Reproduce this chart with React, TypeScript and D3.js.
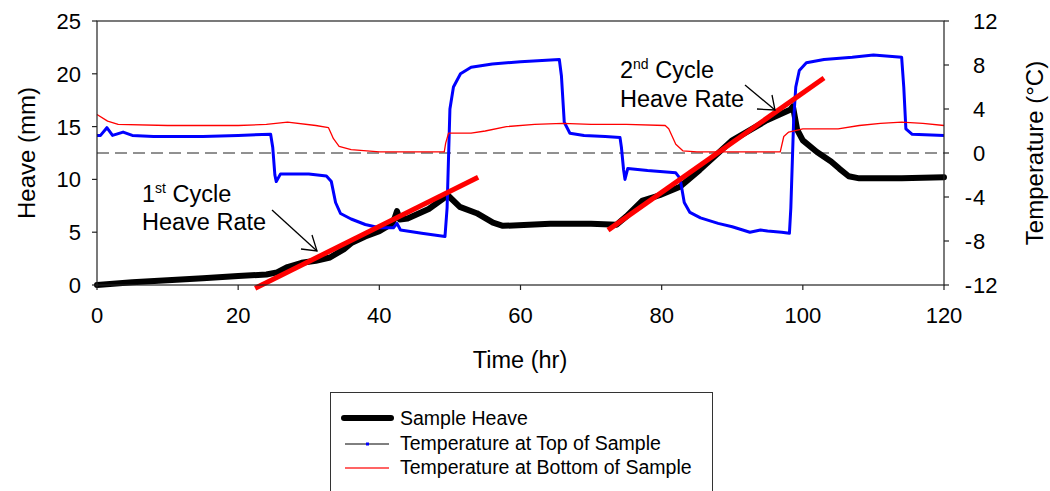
import React from "react";
import * as d3 from "d3";

const W = 1050;
const H = 491;
const PLOT = { left: 97, right: 944, top: 21, bottom: 285 };
const FONT = "'Liberation Sans', Arial, sans-serif";

// Time ticks and axis ticks
const timeTicks = [0, 20, 40, 60, 80, 100, 120];
const heaveTicks = [0, 5, 10, 15, 20, 25];
const tempTicks = [-12, -8, -4, 0, 4, 8, 12];

// Sample heave (mm) vs time (hr)
const heaveTime = [0, 5, 10, 15, 20, 24, 25.5, 27, 29, 31, 33, 35, 36.1, 38, 40, 41.8, 42.2, 42.5, 42.9, 44, 47, 49.7, 51.4, 53.8, 56.1, 57.5, 64.2, 70, 73.6, 75, 77.3, 79.7, 82.6, 85.4, 90, 94.9, 98.2, 98.6, 99.2, 100, 102, 104, 105.2, 106.5, 108, 114, 120];
const heaveMm = [0, 0.25, 0.45, 0.65, 0.85, 1.0, 1.2, 1.7, 2.1, 2.3, 2.6, 3.4, 4.0, 4.6, 5.1, 5.8, 6.4, 7.0, 6.2, 6.3, 7.2, 8.5, 7.4, 6.8, 5.9, 5.6, 5.8, 5.8, 5.7, 6.5, 8.0, 8.5, 9.3, 10.9, 13.7, 15.6, 16.6, 16.9, 14.7, 13.7, 12.6, 11.7, 11.0, 10.3, 10.1, 10.1, 10.2];

// Temperature at top of sample (°C)
const topTime = [0, 0.5, 1.4, 2.2, 3.7, 5, 8, 10, 15, 20, 24.6, 24.9, 25.2, 25.4, 26, 30, 32.5, 33.2, 33.8, 34.5, 36, 38, 40, 42, 42.5, 43, 46, 49.3, 49.6, 50, 50.5, 51.5, 53, 56, 60, 65.5, 65.8, 66.2, 67, 69, 72, 74.1, 74.3, 74.6, 74.8, 75.2, 78, 82, 82.6, 83.2, 84, 85.5, 88, 90, 92.5, 94, 95, 97, 98.1, 98.3, 98.7, 99, 99.5, 100.5, 103, 107, 110, 114, 114.3, 114.6, 115.5, 120];
const topTemp = [1.6, 1.6, 2.3, 1.6, 1.9, 1.6, 1.5, 1.5, 1.5, 1.6, 1.7, 0.5, -2.0, -2.6, -1.9, -1.9, -2.1, -2.6, -4.5, -5.5, -6.0, -6.5, -6.8, -6.8, -6.4, -7.0, -7.3, -7.6, -5.0, 4.0, 6.0, 7.2, 7.8, 8.1, 8.3, 8.5, 7.0, 2.8, 1.8, 1.6, 1.5, 1.4, 0.5, -1.5, -2.4, -1.4, -1.6, -1.8, -2.3, -4.5, -5.4, -5.9, -6.4, -6.7, -7.2, -7.0, -7.1, -7.2, -7.3, -5.0, 3.0, 6.0, 7.5, 8.2, 8.5, 8.7, 8.9, 8.7, 6.0, 2.2, 1.7, 1.6];

// Temperature at bottom of sample (°C)
const bottomTime = [0, 1.5, 3, 10, 20, 24, 27, 31, 32.8, 33.5, 34.3, 36, 40, 49.2, 49.4, 49.8, 53, 55, 58, 62, 66, 70, 75, 80.5, 81, 82, 83, 85, 96.8, 97.3, 98, 100, 105, 108, 111, 114, 117, 120];
const bottomTemp = [3.5, 2.9, 2.6, 2.5, 2.5, 2.6, 2.8, 2.5, 2.3, 1.3, 0.6, 0.3, 0.1, 0.1, 0.9, 1.8, 1.8, 2.0, 2.4, 2.6, 2.7, 2.6, 2.6, 2.5, 2.2, 0.8, 0.2, 0.1, 0.1, 1.5, 1.9, 2.2, 2.2, 2.5, 2.7, 2.8, 2.7, 2.5];

// Heave rate fit lines (time hr, heave mm)
const fit1Time = [22.4, 54];
const fit1Heave = [-0.3, 10.2];
const fit2Time = [72.4, 103];
const fit2Heave = [5.2, 19.6];

const legendLabels = ["Sample Heave", "Temperature at Top of Sample", "Temperature at Bottom of Sample"];

const x = d3.scaleLinear().domain([0, 120]).range([PLOT.left, PLOT.right]);
const yL = d3.scaleLinear().domain([0, 25]).range([PLOT.bottom, PLOT.top]);
const yR = d3.scaleLinear().domain([-12, 12]).range([PLOT.bottom, PLOT.top]);

function zip(a: number[], b: number[]): [number, number][] {
  return a.map((v, i) => [v, b[i]]);
}

export default function App() {
  const lineL = d3.line<[number, number]>().x((d) => x(d[0])).y((d) => yL(d[1]));
  const lineR = d3.line<[number, number]>().x((d) => x(d[0])).y((d) => yR(d[1]));

  const heavePath = lineL(zip(heaveTime, heaveMm)) || "";
  const topPath = lineR(zip(topTime, topTemp)) || "";
  const botPath = lineR(zip(bottomTime, bottomTemp)) || "";
  const fit1 = lineL(zip(fit1Time, fit1Heave)) || "";
  const fit2 = lineL(zip(fit2Time, fit2Heave)) || "";

  const axisColor = "#222";

  return (
    <svg
      width={W}
      height={H}
      style={{ position: "absolute", left: 0, top: 0, background: "#fff" }}
      fontFamily={FONT}
    >
      <rect x={0} y={0} width={W} height={H} fill="#fff" />

      {/* zero temperature dashed line */}
      <line
        x1={PLOT.left}
        x2={PLOT.right}
        y1={yR(0)}
        y2={yR(0)}
        stroke="#222"
        strokeWidth={1}
        strokeDasharray="12,6"
      />

      {/* data */}
      <path d={heavePath} fill="none" stroke="#000" strokeWidth={6} strokeLinejoin="round" strokeLinecap="round" />
      <path d={topPath} fill="none" stroke="#0000ff" strokeWidth={3} strokeLinejoin="round" />
      <path d={botPath} fill="none" stroke="#ff0000" strokeWidth={1.3} strokeLinejoin="round" />
      <path d={fit1} fill="none" stroke="#ff0000" strokeWidth={5} />
      <path d={fit2} fill="none" stroke="#ff0000" strokeWidth={5} />

      {/* frame */}
      <rect
        x={PLOT.left}
        y={PLOT.top}
        width={PLOT.right - PLOT.left}
        height={PLOT.bottom - PLOT.top}
        fill="none"
        stroke={axisColor}
        strokeWidth={1.2}
      />

      {/* x axis ticks */}
      {timeTicks.map((t) => (
        <g key={"xt" + t}>
          <line x1={x(t)} x2={x(t)} y1={PLOT.bottom} y2={PLOT.bottom + 5} stroke={axisColor} strokeWidth={1.2} />
          <text x={x(t)} y={323} textAnchor="middle" fontSize={22} fill="#000">
            {t}
          </text>
        </g>
      ))}

      {/* left axis */}
      {heaveTicks.map((v) => (
        <g key={"yl" + v}>
          <line x1={PLOT.left - 5} x2={PLOT.left} y1={yL(v)} y2={yL(v)} stroke={axisColor} strokeWidth={1.2} />
          <text x={81} y={yL(v) + 8} textAnchor="end" fontSize={22} fill="#000">
            {v}
          </text>
        </g>
      ))}

      {/* right axis */}
      {tempTicks.map((v) => (
        <g key={"yr" + v}>
          <line x1={PLOT.right} x2={PLOT.right + 5} y1={yR(v)} y2={yR(v)} stroke={axisColor} strokeWidth={1.2} />
          <text x={973} y={yR(v) + 8} textAnchor="start" fontSize={22} fill="#000">
            {Math.abs(v)}
          </text>
          {v < 0 && (
            <text x={972} y={yR(v) + 8} textAnchor="end" fontSize={22} fill="#000">
              -
            </text>
          )}
        </g>
      ))}

      {/* axis titles */}
      <text x={520} y={368} textAnchor="middle" fontSize={23.5} fill="#000">
        Time (hr)
      </text>
      <text
        transform={`translate(35,${(PLOT.top + PLOT.bottom) / 2}) rotate(-90)`}
        textAnchor="middle"
        fontSize={24}
        fill="#000"
      >
        Heave (mm)
      </text>
      <text
        transform={`translate(1043,${(PLOT.top + PLOT.bottom) / 2}) rotate(-90)`}
        textAnchor="middle"
        fontSize={24}
        fill="#000"
      >
        Temperature (°C)
      </text>

      {/* annotations */}
      <text x={142} y={202} fontSize={23.5} fill="#000">
        1<tspan fontSize={14} dy={-9}>st</tspan>
        <tspan dy={9}> Cycle</tspan>
      </text>
      <text x={142} y={230} fontSize={23.5} fill="#000">
        Heave Rate
      </text>
      <line x1={272} y1={210} x2={317} y2={251} stroke="#000" strokeWidth={1.3} />
      <polyline points="312,235 317,251 301,249" fill="none" stroke="#000" strokeWidth={1.3} />

      <text x={620} y={78} fontSize={23.5} fill="#000">
        2<tspan fontSize={14} dy={-9}>nd</tspan>
        <tspan dy={9}> Cycle</tspan>
      </text>
      <text x={620} y={107} fontSize={23.5} fill="#000">
        Heave Rate
      </text>
      <line x1={745} y1={85} x2={775} y2={110} stroke="#000" strokeWidth={1.3} />
      <polyline points="772,95 775,110 757,109" fill="none" stroke="#000" strokeWidth={1.3} />

      {/* legend */}
      <rect x={330.5} y={392.5} width={382} height={120} fill="#fff" stroke="#333" strokeWidth={1} />
      <line x1={344} x2={391} y1={418} y2={418} stroke="#000" strokeWidth={6} strokeLinecap="round" />
      <line x1={345} x2={389} y1={444} y2={444} stroke="#000" strokeWidth={1} />
      <rect x={366} y={442.5} width={3} height={3} fill="#0000ff" />
      <line x1={345} x2={389} y1={468} y2={468} stroke="#ff3030" strokeWidth={1.3} />
      {legendLabels.map((l, i) => (
        <text key={l} x={400} y={425 + i * 24.5} fontSize={19.5} fill="#000">
          {l}
        </text>
      ))}
    </svg>
  );
}
